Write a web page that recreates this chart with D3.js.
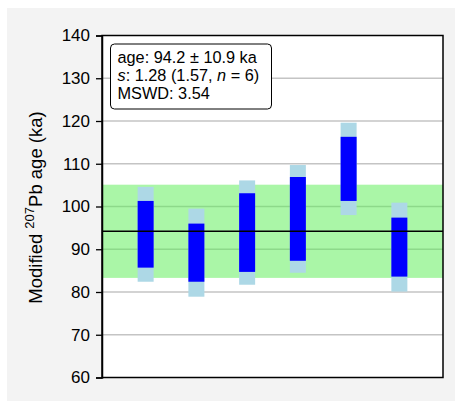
<!DOCTYPE html>
<html>
<head>
<meta charset="utf-8">
<script src="https://cdn.jsdelivr.net/npm/d3@7"></script>
<style>
  html, body { margin: 0; padding: 0; background: #ffffff; }
  svg { display: block; }
  text { font-family: "Liberation Sans", Arial, sans-serif; fill: #000; }
</style>
</head>
<body>
<svg id="chart" width="455" height="401"></svg>
<script>
// Weighted-mean plot of modified 207Pb ages (ka)
const aliquots = [1, 2, 3, 4, 5, 6];
const ages = [93.5, 89.2, 93.9, 97.1, 108.8, 90.5];
const innerErr = [7.8, 6.8, 9.2, 9.8, 7.5, 6.9];    // analytical uncertainty
const outerErr = [11.1, 10.3, 12.2, 12.6, 10.8, 10.4]; // total uncertainty
const meanAge = 94.2;
const meanErr = 10.9;
const yTicks = [60, 70, 80, 90, 100, 110, 120, 130, 140];
const statLines = [
  [{t: "age: 94.2 \u00b1 10.9 ka"}],
  [{t: "s", i: true}, {t: ": 1.28 (1.57, "}, {t: "n", i: true}, {t: " = 6)"}],
  [{t: "MSWD: 3.54"}]
];

const svg = d3.select("#chart");
const W = 455, H = 401;
const plot = {left: 102, right: 443, top: 35.5, bottom: 377.5};

// figure background
svg.append("rect").attr("x", 7).attr("y", 8).attr("width", W - 7).attr("height", H - 8)
  .attr("fill", "#f3f3f3");
svg.append("rect").attr("x", plot.left).attr("y", plot.top)
  .attr("width", plot.right - plot.left).attr("height", plot.bottom - plot.top)
  .attr("fill", "#ffffff");

const x = d3.scaleLinear().domain([0.14, 6.86]).range([plot.left, plot.right]);
const y = d3.scaleLinear().domain([60, 140]).range([plot.bottom, plot.top]);

// horizontal grid
svg.append("g").selectAll("line").data(yTicks.slice(1, -1)).join("line")
  .attr("x1", plot.left).attr("x2", plot.right)
  .attr("y1", d => y(d)).attr("y2", d => y(d))
  .attr("stroke", "#c4c4c4").attr("stroke-width", 1.4);

// weighted mean uncertainty band
svg.append("rect")
  .attr("x", plot.left).attr("width", plot.right - plot.left)
  .attr("y", y(meanAge + meanErr)).attr("height", y(meanAge - meanErr) - y(meanAge + meanErr))
  .attr("fill", "#55ee50").attr("fill-opacity", 0.5);

// error bars
const bw = 16;
const g = svg.append("g");
g.selectAll("rect.outer").data(aliquots).join("rect").attr("class", "outer")
  .attr("x", (d) => x(d) - bw / 2).attr("width", bw)
  .attr("y", (d, i) => y(ages[i] + outerErr[i]))
  .attr("height", (d, i) => y(ages[i] - outerErr[i]) - y(ages[i] + outerErr[i]))
  .attr("fill", "#add8e6");
g.selectAll("rect.inner").data(aliquots).join("rect").attr("class", "inner")
  .attr("x", (d) => x(d) - bw / 2).attr("width", bw)
  .attr("y", (d, i) => y(ages[i] + innerErr[i]))
  .attr("height", (d, i) => y(ages[i] - innerErr[i]) - y(ages[i] + innerErr[i]))
  .attr("fill", "#0000ff");

// weighted mean line
svg.append("line")
  .attr("x1", plot.left).attr("x2", plot.right)
  .attr("y1", y(meanAge)).attr("y2", y(meanAge))
  .attr("stroke", "#000").attr("stroke-width", 1.5);

// frame
svg.append("rect").attr("x", plot.left).attr("y", plot.top)
  .attr("width", plot.right - plot.left).attr("height", plot.bottom - plot.top)
  .attr("fill", "none").attr("stroke", "#000").attr("stroke-width", 1.5);

// y axis
const yAxis = d3.axisLeft(y).tickValues(yTicks).tickSize(6).tickPadding(6);
const ax = svg.append("g").attr("transform", `translate(${plot.left},0)`).call(yAxis);
ax.select(".domain").attr("stroke", "#000").attr("stroke-width", 1.5);
ax.selectAll(".tick line").attr("stroke", "#000").attr("stroke-width", 1.3);
ax.selectAll(".tick text").attr("font-size", 17)
  .attr("font-family", "Liberation Sans, Arial, sans-serif").attr("fill", "#000");

// y axis title
const title = svg.append("text")
  .attr("transform", `translate(42,${(plot.top + plot.bottom) / 2 + 1}) rotate(-90)`)
  .attr("text-anchor", "middle").attr("font-size", 18.5);
title.append("tspan").text("Modified ");
title.append("tspan").text("207").attr("font-size", 13).attr("dy", -8);
title.append("tspan").text("Pb age (ka)").attr("dy", 8);

// statistics box
const box = {x: 110.5, y: 44, w: 161, h: 65};
svg.append("rect").attr("x", box.x).attr("y", box.y).attr("width", box.w).attr("height", box.h)
  .attr("rx", 4).attr("fill", "#fff").attr("stroke", "#000").attr("stroke-width", 1);
statLines.forEach((parts, li) => {
  const t = svg.append("text").attr("x", box.x + 7).attr("y", box.y + 18.7 + li * 18)
    .attr("font-size", 16.3);
  parts.forEach(p => {
    t.append("tspan").text(p.t).attr("font-style", p.i ? "italic" : "normal");
  });
});
</script>
</body>
</html>
